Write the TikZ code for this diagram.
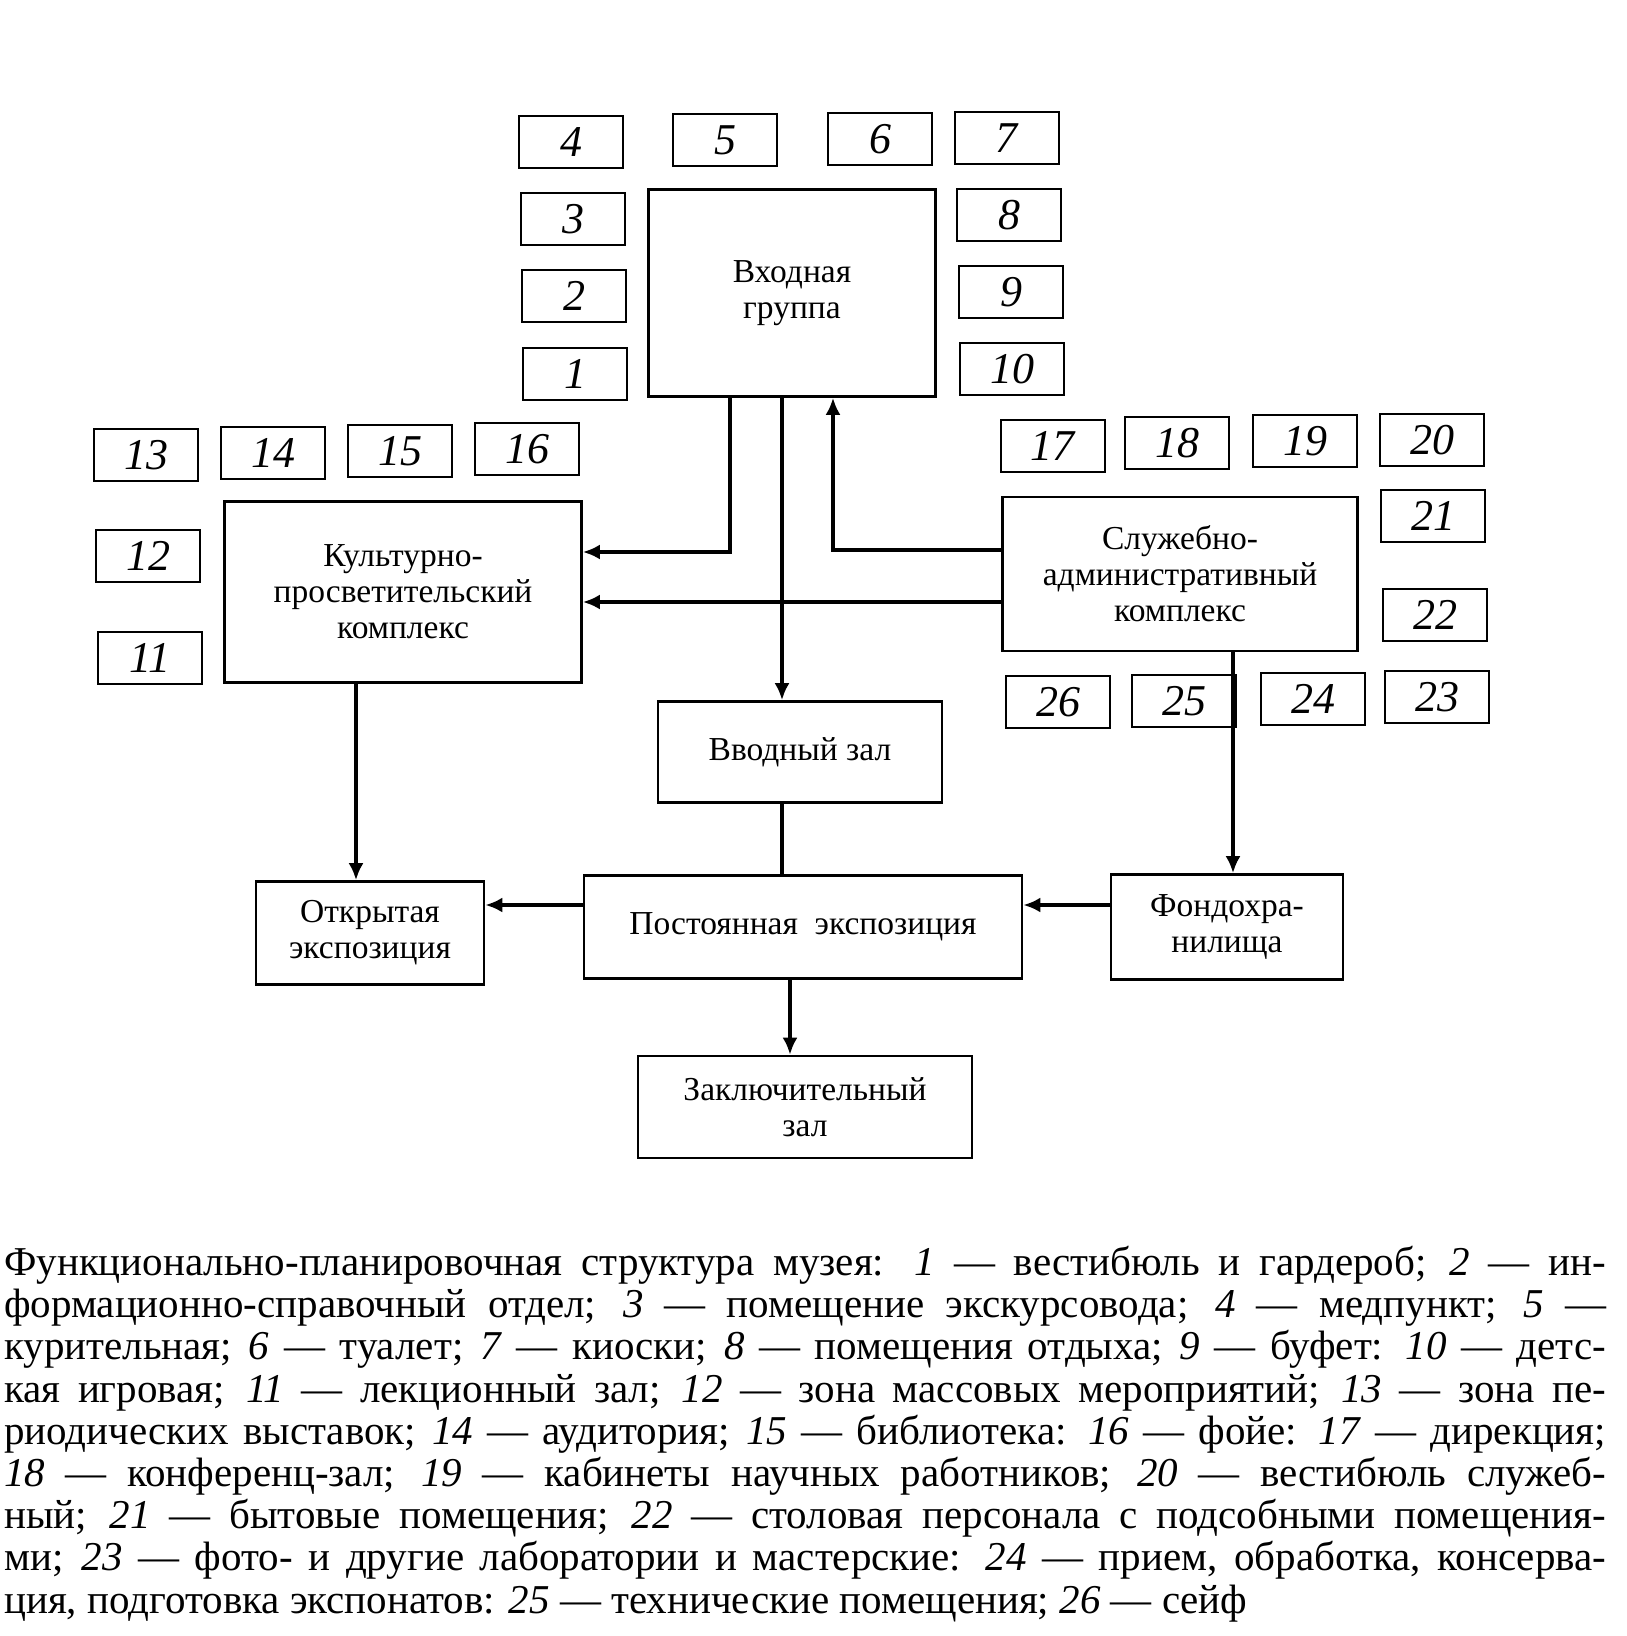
\documentclass[tikz,border=0pt]{standalone}
\usepackage{fontspec}
\setmainfont{Liberation Serif}
\usepackage{tikz}
\usetikzlibrary{positioning,calc,arrows.meta}
\newcommand{\roomNode}[3]{\node[room] (r#1) at (#2,#3) {\textit{#1}};}
\newcommand{\capLine}[1]{\makebox[1602pt][s]{#1}}
\newcommand{\nr}[1]{\textit{#1}}

\begin{document}
\begin{tikzpicture}[x=1pt, y=-1pt, room/.style={draw, line width=2.6pt,
				minimum width=104pt, minimum height=52pt, inner sep=0pt,
				font=\fontsize{44}{44}\selectfont}, zone/.style={draw, line
				width=2.6pt, align=center, inner sep=0pt,
				font=\fontsize{33.5}{36}\selectfont}, link/.style={line
				width=4pt, -{Latex[length=17pt,width=15pt]}}]
				\useasboundingbox (0,0) rectangle (1626,1636);
				\node[zone, minimum width=287pt, minimum height=207pt] (vhod) at (792,293) {Входная\\группа};
				\node[zone, minimum width=357pt, minimum height=181pt] (kult) at (403,592) {Культурно-\\просветительский\\комплекс};
				\node[zone, minimum width=355pt, minimum height=154pt] (sluzh) at (1180,574) {Служебно-\\административный\\комплекс};
				\node[zone, minimum width=284pt, minimum height=101pt] (vvod) at (800,752) {Вводный зал};
				\node[zone, minimum width=228pt, minimum height=103pt] (otkr) at (370,933) {Открытая\\экспозиция};
				\node[zone, minimum width=438pt, minimum height=103pt] (post) at (803,927) {Постоянная\ \ экспозиция};
				\node[zone, minimum width=232pt, minimum height=105pt] (fond) at (1227,927) {Фондохра-\\нилища};
				\node[zone, minimum width=334pt, minimum height=102pt] (zakl) at (805,1107) {Заключительный\\зал};
				\roomNode{4}{571}{142} \roomNode{5}{725}{140} \roomNode{6}{880}{139} \roomNode{7}{1007}{138}
				\roomNode{3}{573}{219} \roomNode{2}{574}{296} \roomNode{1}{575}{374}
				\roomNode{8}{1009}{215} \roomNode{9}{1011}{292} \roomNode{10}{1012}{369}
				\roomNode{13}{146}{455} \roomNode{14}{273}{453} \roomNode{15}{400}{451} \roomNode{16}{527}{449}
				\roomNode{12}{148}{556} \roomNode{11}{150}{658}
				\roomNode{17}{1053}{446} \roomNode{18}{1177}{443} \roomNode{19}{1305}{441} \roomNode{20}{1432}{440}
				\roomNode{21}{1433}{516} \roomNode{22}{1435}{615}
				\roomNode{26}{1058}{702} \roomNode{25}{1184}{701} \roomNode{24}{1313}{699} \roomNode{23}{1437}{697}
				\coordinate (c1) at (730,552); \coordinate (c2) at (782,0);
				\coordinate (c3) at (833,550); \coordinate (c4) at (0,602);
				\coordinate (c5) at (356,0); \coordinate (c6) at (0,905);
				\coordinate (c8) at (1233,0); \coordinate (c9) at (790,0);
				\draw[link] (c1 |- vhod.south) -- (c1) -- (c1 -| kult.east);
				\draw[link] (c2 |- vhod.south) -- (c2 |- vvod.north);
				\draw[link] (c3 -| sluzh.west) -- (c3) -- (c3 |- vhod.south);
				\draw[link] (c4 -| sluzh.west) -- (c4 -| kult.east);
				\draw[link] (c5 |- kult.south) -- (c5 |- otkr.north);
				\draw[line width=4pt] (c2 |- vvod.south) -- (c2 |- post.north);
				\draw[link] (c6 -| post.west) -- (c6 -| otkr.east);
				\draw[link] (c6 -| fond.west) -- (c6 -| post.east);
				\draw[link] (c8 |- sluzh.south) -- (c8 |- fond.north);
				\draw[link] (c9 |- post.south) -- (c9 |- zakl.north);
				\node[anchor=north west, align=left, inner sep=0pt,
				font=\fontsize{41}{42.2}\selectfont] (caption) at (4,1246) {
				\capLine{Функционально-планировочная структура музея: \nr{1} — вестибюль и гардероб; \nr{2} — ин-}\\
				\capLine{формационно-справочный отдел; \nr{3} — помещение экскурсовода; \nr{4} — медпункт; \nr{5} —}\\
				\capLine{курительная; \nr{6} — туалет; \nr{7} — киоски; \nr{8} — помещения отдыха; \nr{9} — буфет: \nr{10} — детс-}\\
				\capLine{кая игровая; \nr{11} — лекционный зал; \nr{12} — зона массовых мероприятий; \nr{13} — зона пе-}\\
				\capLine{риодических выставок; \nr{14} — аудитория; \nr{15} — библиотека: \nr{16} — фойе: \nr{17} — дирекция;}\\
				\capLine{\nr{18} — конференц-зал; \nr{19} — кабинеты научных работников; \nr{20} — вестибюль служеб-}\\
				\capLine{ный; \nr{21} — бытовые помещения; \nr{22} — столовая персонала с подсобными помещения-}\\
				\capLine{ми; \nr{23} — фото- и другие лаборатории и мастерские: \nr{24} — прием, обработка, консерва-}\\
				ция, подготовка экспонатов: \nr{25} — технические помещения; \nr{26} — сейф};
			\end{tikzpicture}
\end{document}
